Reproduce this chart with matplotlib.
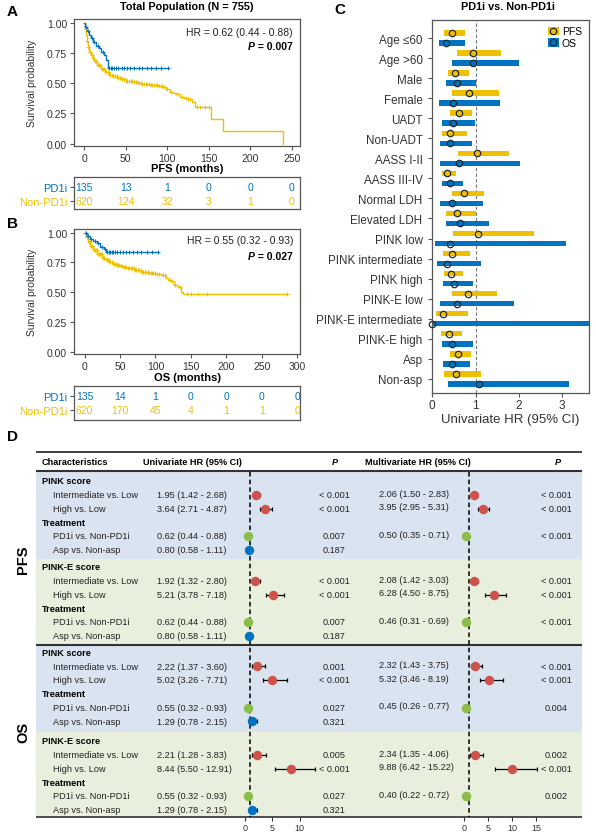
import numpy as np
import matplotlib
matplotlib.use('Agg')
import matplotlib.pyplot as plt
from matplotlib.patches import Patch
from matplotlib.lines import Line2D

plt.rcParams['font.family'] = ['Liberation Sans', 'DejaVu Sans']

# ---------------- DATA ----------------
# Panel A: PFS Kaplan-Meier (step times / survival)
pfs_pd1i_t = [0, 1, 3, 6, 8, 10, 14, 18, 20, 24, 26, 28]
pfs_pd1i_s = [1.0, 0.96, 0.93, 0.90, 0.87, 0.84, 0.81, 0.79, 0.76, 0.73, 0.69, 0.625]
pfs_pd1i_end = 101
pfs_pd1i_cens = [2, 5, 9, 12, 16, 22, 30, 32, 34, 36, 38, 41, 45, 48, 52, 55, 60, 66, 70, 75, 80, 86, 92, 101]

pfs_non_t = [0, 1, 2, 3, 4, 6, 8, 10, 12, 15, 20, 25, 30, 35, 40, 45, 50, 55, 60, 65, 70, 75, 80,
             90, 95, 98, 103, 107, 110, 115, 120, 125, 130, 133, 153, 167, 239]
pfs_non_s = [1.0, 0.95, 0.90, 0.85, 0.80, 0.76, 0.73, 0.71, 0.68, 0.65, 0.62, 0.595, 0.57, 0.555,
             0.54, 0.53, 0.52, 0.515, 0.51, 0.50, 0.495, 0.49, 0.485, 0.48, 0.47, 0.45, 0.43, 0.42,
             0.41, 0.385, 0.375, 0.365, 0.34, 0.305, 0.20, 0.10, 0.0]
pfs_non_end = 239
pfs_non_cens = [1.5, 3, 5, 7, 9, 11, 13, 14, 16, 18, 19, 21, 23, 24, 26, 28, 29, 31, 33, 35, 37, 39,
                41, 43, 44, 46, 48, 50, 52, 54, 56, 58, 60, 62, 64, 66, 68, 70, 72, 74, 76, 78, 80,
                82, 84, 86, 88, 90, 92, 94, 96, 100, 105, 112, 118, 122, 125, 128, 136, 140, 145, 150]

# Panel B: OS Kaplan-Meier
os_pd1i_t = [0, 3, 7, 12, 17, 22, 27, 30]
os_pd1i_s = [1.0, 0.97, 0.95, 0.93, 0.91, 0.88, 0.86, 0.84]
os_pd1i_end = 103
os_pd1i_cens = [2, 5, 9, 14, 19, 24, 29, 32, 34, 36, 38, 40, 43, 46, 50, 54, 58, 62, 68, 74, 80, 88, 95, 103]

os_non_t = [0, 2, 5, 8, 12, 18, 25, 30, 35, 40, 45, 50, 55, 60, 70, 80, 90, 100, 108, 115, 118,
            122, 126, 130, 132, 136, 139]
os_non_s = [1.0, 0.96, 0.92, 0.89, 0.85, 0.82, 0.79, 0.77, 0.755, 0.74, 0.73, 0.72, 0.71, 0.70,
            0.685, 0.67, 0.66, 0.655, 0.645, 0.62, 0.60, 0.59, 0.56, 0.55, 0.54, 0.50, 0.48]
os_non_end = 286
os_non_cens = [1, 3, 4, 6, 7, 9, 10, 11, 13, 15, 16, 17, 19, 20, 21, 23, 24, 26, 27, 28, 31, 33, 34,
               36, 38, 39, 41, 42, 44, 46, 47, 49, 51, 53, 55, 57, 59, 61, 63, 65, 67, 69, 71, 73,
               75, 77, 79, 81, 83, 85, 87, 89, 91, 93, 95, 97, 99, 102, 105, 110, 113, 120, 124,
               128, 134, 145, 150, 160, 173, 286]

pfs_risk_times = [0, 50, 100, 150, 200, 250]
pfs_risk_pd1i = [135, 13, 1, 0, 0, 0]
pfs_risk_non = [620, 124, 32, 3, 1, 0]
os_risk_times = [0, 50, 100, 150, 200, 250, 300]
os_risk_pd1i = [135, 14, 1, 0, 0, 0, 0]
os_risk_non = [620, 170, 45, 4, 1, 1, 0]

# Panel C: subgroup univariate HR
c_cats = ['Age \u226460', 'Age >60', 'Male', 'Female', 'UADT', 'Non-UADT', 'AASS I-II', 'AASS III-IV',
          'Normal LDH', 'Elevated LDH', 'PINK low', 'PINK intermediate', 'PINK high', 'PINK-E low',
          'PINK-E intermediate', 'PINK-E high', 'Asp', 'Non-asp']
c_pfs_hr = [0.46, 0.93, 0.53, 0.84, 0.61, 0.41, 1.03, 0.33, 0.74, 0.56, 1.06, 0.45, 0.43, 0.82, 0.24, 0.38, 0.60, 0.54]
c_pfs_lo = [0.28, 0.56, 0.36, 0.45, 0.41, 0.22, 0.59, 0.23, 0.45, 0.32, 0.48, 0.24, 0.27, 0.45, 0.08, 0.21, 0.40, 0.26]
c_pfs_hi = [0.76, 1.59, 0.85, 1.55, 0.92, 0.79, 1.78, 0.55, 1.20, 1.01, 2.34, 0.88, 0.70, 1.50, 0.82, 0.69, 0.90, 1.12]
c_os_hr = [0.32, 0.95, 0.57, 0.48, 0.48, 0.41, 0.62, 0.40, 0.46, 0.65, 0.41, 0.33, 0.49, 0.58, 0.0, 0.45, 0.45, 1.08]
c_os_lo = [0.15, 0.45, 0.31, 0.15, 0.23, 0.18, 0.18, 0.22, 0.18, 0.32, 0.06, 0.11, 0.25, 0.18, 0.0, 0.23, 0.24, 0.37]
c_os_hi = [0.76, 2.00, 1.02, 1.57, 0.98, 0.92, 2.03, 0.72, 1.18, 1.31, 3.08, 1.12, 0.93, 1.89, 10.0, 0.93, 0.88, 3.15]

# Panel D: Cox regression table
d_endpoints = ['PFS', 'OS']
d_score_names = ['PINK score', 'PINK-E score', 'PINK score', 'PINK-E score']
d_row_labels = ['Intermediate vs. Low', 'High vs. Low', 'PD1i vs. Non-PD1i', 'Asp vs. Non-asp']
d_uni_hr = [[1.95, 3.64, 0.62, 0.80], [1.92, 5.21, 0.62, 0.80], [2.22, 5.02, 0.55, 1.29], [2.21, 8.44, 0.55, 1.29]]
d_uni_lo = [[1.42, 2.71, 0.44, 0.58], [1.32, 3.78, 0.44, 0.58], [1.37, 3.26, 0.32, 0.78], [1.28, 5.50, 0.32, 0.78]]
d_uni_hi = [[2.68, 4.87, 0.88, 1.11], [2.80, 7.18, 0.88, 1.11], [3.60, 7.71, 0.93, 2.15], [3.83, 12.91, 0.93, 2.15]]
d_uni_p = [['< 0.001', '< 0.001', '0.007', '0.187'], ['< 0.001', '< 0.001', '0.007', '0.187'],
           ['0.001', '< 0.001', '0.027', '0.321'], ['0.005', '< 0.001', '0.027', '0.321']]
d_multi_hr = [[2.06, 3.95, 0.50], [2.08, 6.28, 0.46], [2.32, 5.32, 0.45], [2.34, 9.88, 0.40]]
d_multi_lo = [[1.50, 2.95, 0.35], [1.42, 4.50, 0.31], [1.43, 3.46, 0.26], [1.35, 6.42, 0.22]]
d_multi_hi = [[2.83, 5.31, 0.71], [3.03, 8.75, 0.69], [3.75, 8.19, 0.77], [4.06, 15.22, 0.72]]
d_multi_p = [['< 0.001', '< 0.001', '< 0.001'], ['< 0.001', '< 0.001', '< 0.001'],
             ['< 0.001', '< 0.001', '0.004'], ['0.002', '< 0.001', '0.002']]

# ---------------- STYLE ----------------
BLUE = '#0073C2'
YEL = '#EFC000'
RED = '#CD534C'
GRN = '#8CBD4A'
BG_BLUE = '#DAE4F1'
BG_GRN = '#E8F0DD'
SPINE = '#555555'
TXT = '#333333'

W, H = 596, 837
fig = plt.figure(figsize=(W / 100, H / 100), dpi=100)


def ax_px(l, t, r, b):
    return fig.add_axes([l / W, 1 - b / H, (r - l) / W, (b - t) / H])


def style_box(ax):
    for s in ax.spines.values():
        s.set_color(SPINE)
        s.set_linewidth(0.9)
    ax.tick_params(colors=SPINE, labelcolor=TXT, length=3, width=0.8, labelsize=7.5, pad=2)


def km_curve(ax, t, s, end, cens, color):
    tt = list(t) + [end]
    ss = list(s) + [s[-1]]
    ax.step(tt, ss, where='post', color=color, lw=1.0, zorder=3)
    ta = np.array(t)
    sa = np.array(s)
    cy = sa[np.searchsorted(ta, np.array(cens), side='right') - 1]
    ax.plot(cens, cy, ls='none', marker='+', ms=3.5, mew=0.7, color=color, zorder=4)


def km_panel(box, curves, xlim, xticks, xlabel, xlabel_y, hr, pval, hr_y, p_y):
    l, t, r, b = box
    ax = ax_px(l, t, r, b)
    for c in curves:
        km_curve(ax, *c)
    ax.set_xlim(*xlim)
    ax.set_ylim(-0.02, 1.03)
    ax.set_xticks(xticks)
    ax.set_yticks([0, 0.25, 0.5, 0.75, 1.0])
    ax.set_yticklabels(['0.00', '0.25', '0.50', '0.75', '1.00'])
    style_box(ax)
    ax.set_ylabel('Survival probability', fontsize=7.5, color=TXT)
    ax.yaxis.set_label_coords(-(l - 37) / (r - l), 0.5)
    ax.set_xlabel(xlabel, fontsize=8, fontweight='bold', color='black')
    ax.xaxis.set_label_coords(0.5, -(xlabel_y - b) / (b - t))
    ax.xaxis.label.set_va('center')
    hx = (293 - l) / (r - l)
    ax.text(hx, 1 - (hr_y - t) / (b - t), hr, ha='right', va='center', fontsize=7.5, transform=ax.transAxes, color='#222')
    t1 = ax.text(hx, 1 - (p_y - t) / (b - t), ' = ' + pval, ha='right', va='center', fontsize=7.5,
                 fontweight='bold', transform=ax.transAxes)
    ax.annotate('P', xy=(0, 0.5), xycoords=t1, ha='right', va='center', fontsize=7.5,
                fontweight='bold', style='italic')
    return ax


def risk_table(box, xlim, times, n1, n2, y1, y2):
    l, t, r, b = box
    ax = ax_px(l, t, r, b)
    ax.set_xlim(*xlim)
    ax.set_ylim(0, 1)
    r1 = 1 - (y1 - t) / (b - t)
    r2 = 1 - (y2 - t) / (b - t)
    for x, a, c in zip(times, n1, n2):
        ax.text(x, r1, str(a), color=BLUE, ha='center', va='center', fontsize=7.5)
        ax.text(x, r2, str(c), color=YEL, ha='center', va='center', fontsize=7.5)
    ax.set_xticks([])
    ax.set_yticks([r1, r2])
    ax.set_yticklabels(['PD1i', 'Non-PD1i'], fontsize=8)
    style_box(ax)
    ax.tick_params(axis='y', labelsize=8)
    ax.get_yticklabels()[0].set_color(BLUE)
    ax.get_yticklabels()[1].set_color(YEL)
    return ax


# ---------------- PANEL A ----------------
km_panel((74, 20, 300, 147),
         [(pfs_non_t, pfs_non_s, pfs_non_end, pfs_non_cens, YEL),
          (pfs_pd1i_t, pfs_pd1i_s, pfs_pd1i_end, pfs_pd1i_cens, BLUE)],
         (-12.4, 260), [0, 50, 100, 150, 200, 250], 'PFS (months)', 169,
         'HR = 0.62 (0.44 - 0.88)', '0.007', 33, 47)
risk_table((74, 178, 300, 210), (-12.4, 260), pfs_risk_times, pfs_risk_pd1i, pfs_risk_non, 187.7, 202.3)
fig.text(187 / W, 1 - 7.5 / H, 'Total Population (N = 755)', ha='center', va='center', fontsize=7.8, fontweight='bold')

# ---------------- PANEL B ----------------
km_panel((74, 230, 300, 355),
         [(os_non_t, os_non_s, os_non_end, os_non_cens, YEL),
          (os_pd1i_t, os_pd1i_s, os_pd1i_end, os_pd1i_cens, BLUE)],
         (-15, 304), [0, 50, 100, 150, 200, 250, 300], 'OS (months)', 378,
         'HR = 0.55 (0.32 - 0.93)', '0.027', 241, 256.5)
risk_table((74, 387, 300, 421), (-15, 304), os_risk_times, os_risk_pd1i, os_risk_non, 396.7, 410.7)

# ---------------- PANEL C ----------------
axC = ax_px(432.3, 20.7, 588.7, 394)
yc = np.arange(len(c_cats))
pl, ph = np.array(c_pfs_lo), np.array(c_pfs_hi)
ol, oh = np.array(c_os_lo), np.array(c_os_hi)
axC.axvline(1, color='#777777', ls=(0, (3, 2)), lw=0.8, zorder=1)
axC.barh(yc - 0.25, ph - pl, left=pl, height=0.28, color=YEL, zorder=2)
axC.barh(yc + 0.25, oh - ol, left=ol, height=0.28, color=BLUE, zorder=2)
axC.plot(c_pfs_hr, yc - 0.25, ls='none', marker='o', mfc='none', mec='#2a2a2a', ms=4.6, mew=0.9, zorder=3, clip_on=False)
axC.plot(c_os_hr, yc + 0.25, ls='none', marker='o', mfc='none', mec='#1a2a3a', ms=4.6, mew=0.9, zorder=3, clip_on=False)
axC.set_xlim(0, 3.61)
axC.set_ylim(17.71, -0.92)
axC.set_yticks(yc)
axC.set_yticklabels(c_cats)
axC.set_xticks([0, 1, 2, 3])
style_box(axC)
axC.tick_params(axis='y', labelsize=8.4, pad=4)
axC.tick_params(axis='x', labelsize=8.5, pad=1.5)
axC.set_xlabel('Univariate HR (95% CI)', fontsize=9.5, color=TXT)
axC.xaxis.set_label_coords(0.5, -(420 - 394) / (394 - 20.7))
axC.xaxis.label.set_va('center')
fig.text(508 / W, 1 - 7.5 / H, 'PD1i vs. Non-PD1i', ha='center', va='center', fontsize=7.8, fontweight='bold')
h_pfs = (Patch(facecolor=YEL, edgecolor='none'),
         Line2D([], [], ls='none', marker='o', mfc='none', mec='#2a2a2a', ms=4.6, mew=0.9))
h_os = (Patch(facecolor=BLUE, edgecolor='none'),
        Line2D([], [], ls='none', marker='o', mfc='none', mec='#1a2a3a', ms=4.6, mew=0.9))
axC.legend(handles=[h_pfs, h_os], labels=['PFS', 'OS'], loc='upper right', frameon=False,
           fontsize=7.5, handlelength=1.0, handleheight=0.9, handletextpad=0.3,
           labelspacing=0.15, borderaxespad=0.25, bbox_to_anchor=(1.0, 1.0))

# ---------------- PANEL D ----------------
axT = ax_px(36, 450, 582, 820)
axT.set_xlim(36, 582)
axT.set_ylim(820, 450)
axT.axis('off')

block_edges = [472, 559.5, 646, 732.5, 818]
block_row0 = [482, 568, 653.5, 742]
row_step = 13.75
bgs = [BG_BLUE, BG_GRN, BG_BLUE, BG_GRN]
for k in range(4):
    axT.axhspan(block_edges[k], block_edges[k + 1], color=bgs[k], lw=0, zorder=0)

axT.axhline(453, color='#333333', lw=1.3, zorder=2)
axT.axhline(472, color='#333333', lw=1.5, zorder=2)
axT.axhline(646, color='#333333', lw=1.5, zorder=2)
axT.axhline(818, color='#333333', lw=1.2, zorder=2)

FS = 6.6
hy = 462.5
axT.text(42, hy, 'Characteristics', fontsize=FS, fontweight='bold', va='center')
axT.text(143, hy, 'Univariate HR (95% CI)', fontsize=FS, fontweight='bold', va='center')
axT.text(335, hy, 'P', fontsize=FS, fontweight='bold', style='italic', va='center', ha='center')
axT.text(365, hy, 'Multivariate HR (95% CI)', fontsize=FS, fontweight='bold', va='center')
axT.text(558, hy, 'P', fontsize=FS, fontweight='bold', style='italic', va='center', ha='center')

for e, name in enumerate(d_endpoints):
    axT.text(23, block_edges[2 * e + 1], name, rotation=90, fontsize=10.5, fontweight='bold',
             ha='center', va='center')

row_offsets = [1, 2, 4, 5]   # data rows within each block (0 = score header, 3 = Treatment)
for k in range(4):
    r0 = block_row0[k]
    axT.text(42, r0, d_score_names[k], fontsize=FS, fontweight='bold', va='center')
    axT.text(42, r0 + 3 * row_step, 'Treatment', fontsize=FS, fontweight='bold', va='center')
    for j, ro in enumerate(row_offsets):
        yy = r0 + ro * row_step
        axT.text(53, yy, d_row_labels[j], fontsize=FS, va='center', color='#222')
        axT.text(157, yy, f'{d_uni_hr[k][j]:.2f} ({d_uni_lo[k][j]:.2f} - {d_uni_hi[k][j]:.2f})',
                 fontsize=FS, va='center', color='#222')
        axT.text(334, yy, d_uni_p[k][j], fontsize=FS, va='center', ha='center', color='#222')
        if j < len(d_multi_hr[k]):
            axT.text(379, yy - 1.5, f'{d_multi_hr[k][j]:.2f} ({d_multi_lo[k][j]:.2f} - {d_multi_hi[k][j]:.2f})',
                     fontsize=FS, va='center', color='#222')
            axT.text(556, yy, d_multi_p[k][j], fontsize=FS, va='center', ha='center', color='#222')

marker_cols = [RED, RED, GRN, BLUE]


def forest(x0px, unit, xlim, ticks, hrs, los, his):
    l = x0px + xlim[0] * unit
    r = x0px + xlim[1] * unit
    ax = ax_px(l, 450, r, 820)
    ax.set_xlim(*xlim)
    ax.set_ylim(820, 450)
    ax.patch.set_alpha(0)
    for s in ['top', 'left', 'right']:
        ax.spines[s].set_visible(False)
    ax.spines['bottom'].set_position(('data', 818))
    ax.spines['bottom'].set_visible(False)
    ax.set_yticks([])
    ax.set_xticks(ticks)
    ax.tick_params(axis='x', length=3, width=0.8, colors='#333333', labelsize=6.5, pad=1.5)
    ax.vlines(1, 472.5, 818, colors='black', linestyles=(0, (3, 2)), lw=1.1, zorder=2)
    for k in range(4):
        r0 = block_row0[k]
        for j in range(len(hrs[k])):
            yy = r0 + row_offsets[j] * row_step
            ax.errorbar(hrs[k][j], yy, xerr=[[hrs[k][j] - los[k][j]], [his[k][j] - hrs[k][j]]],
                        fmt='none', ecolor='black', elinewidth=0.9, capsize=1.6, capthick=0.9, zorder=3)
            ax.plot(hrs[k][j], yy, marker='o', ms=6.8, color=marker_cols[j], mec='none', zorder=4)
    return ax


forest(245, 5.45, (-1.5, 14), [0, 5, 10], d_uni_hr, d_uni_lo, d_uni_hi)
forest(463.7, 4.84, (-1.5, 17), [0, 5, 10, 15], d_multi_hr, d_multi_lo, d_multi_hi)

# panel letters
for lab, x, y in [('A', 12, 12), ('B', 12, 224), ('C', 340, 10), ('D', 12, 437)]:
    fig.text(x / W, 1 - y / H, lab, fontsize=11, fontweight='bold', ha='center', va='center')

fig.savefig('out.png', dpi=100)
